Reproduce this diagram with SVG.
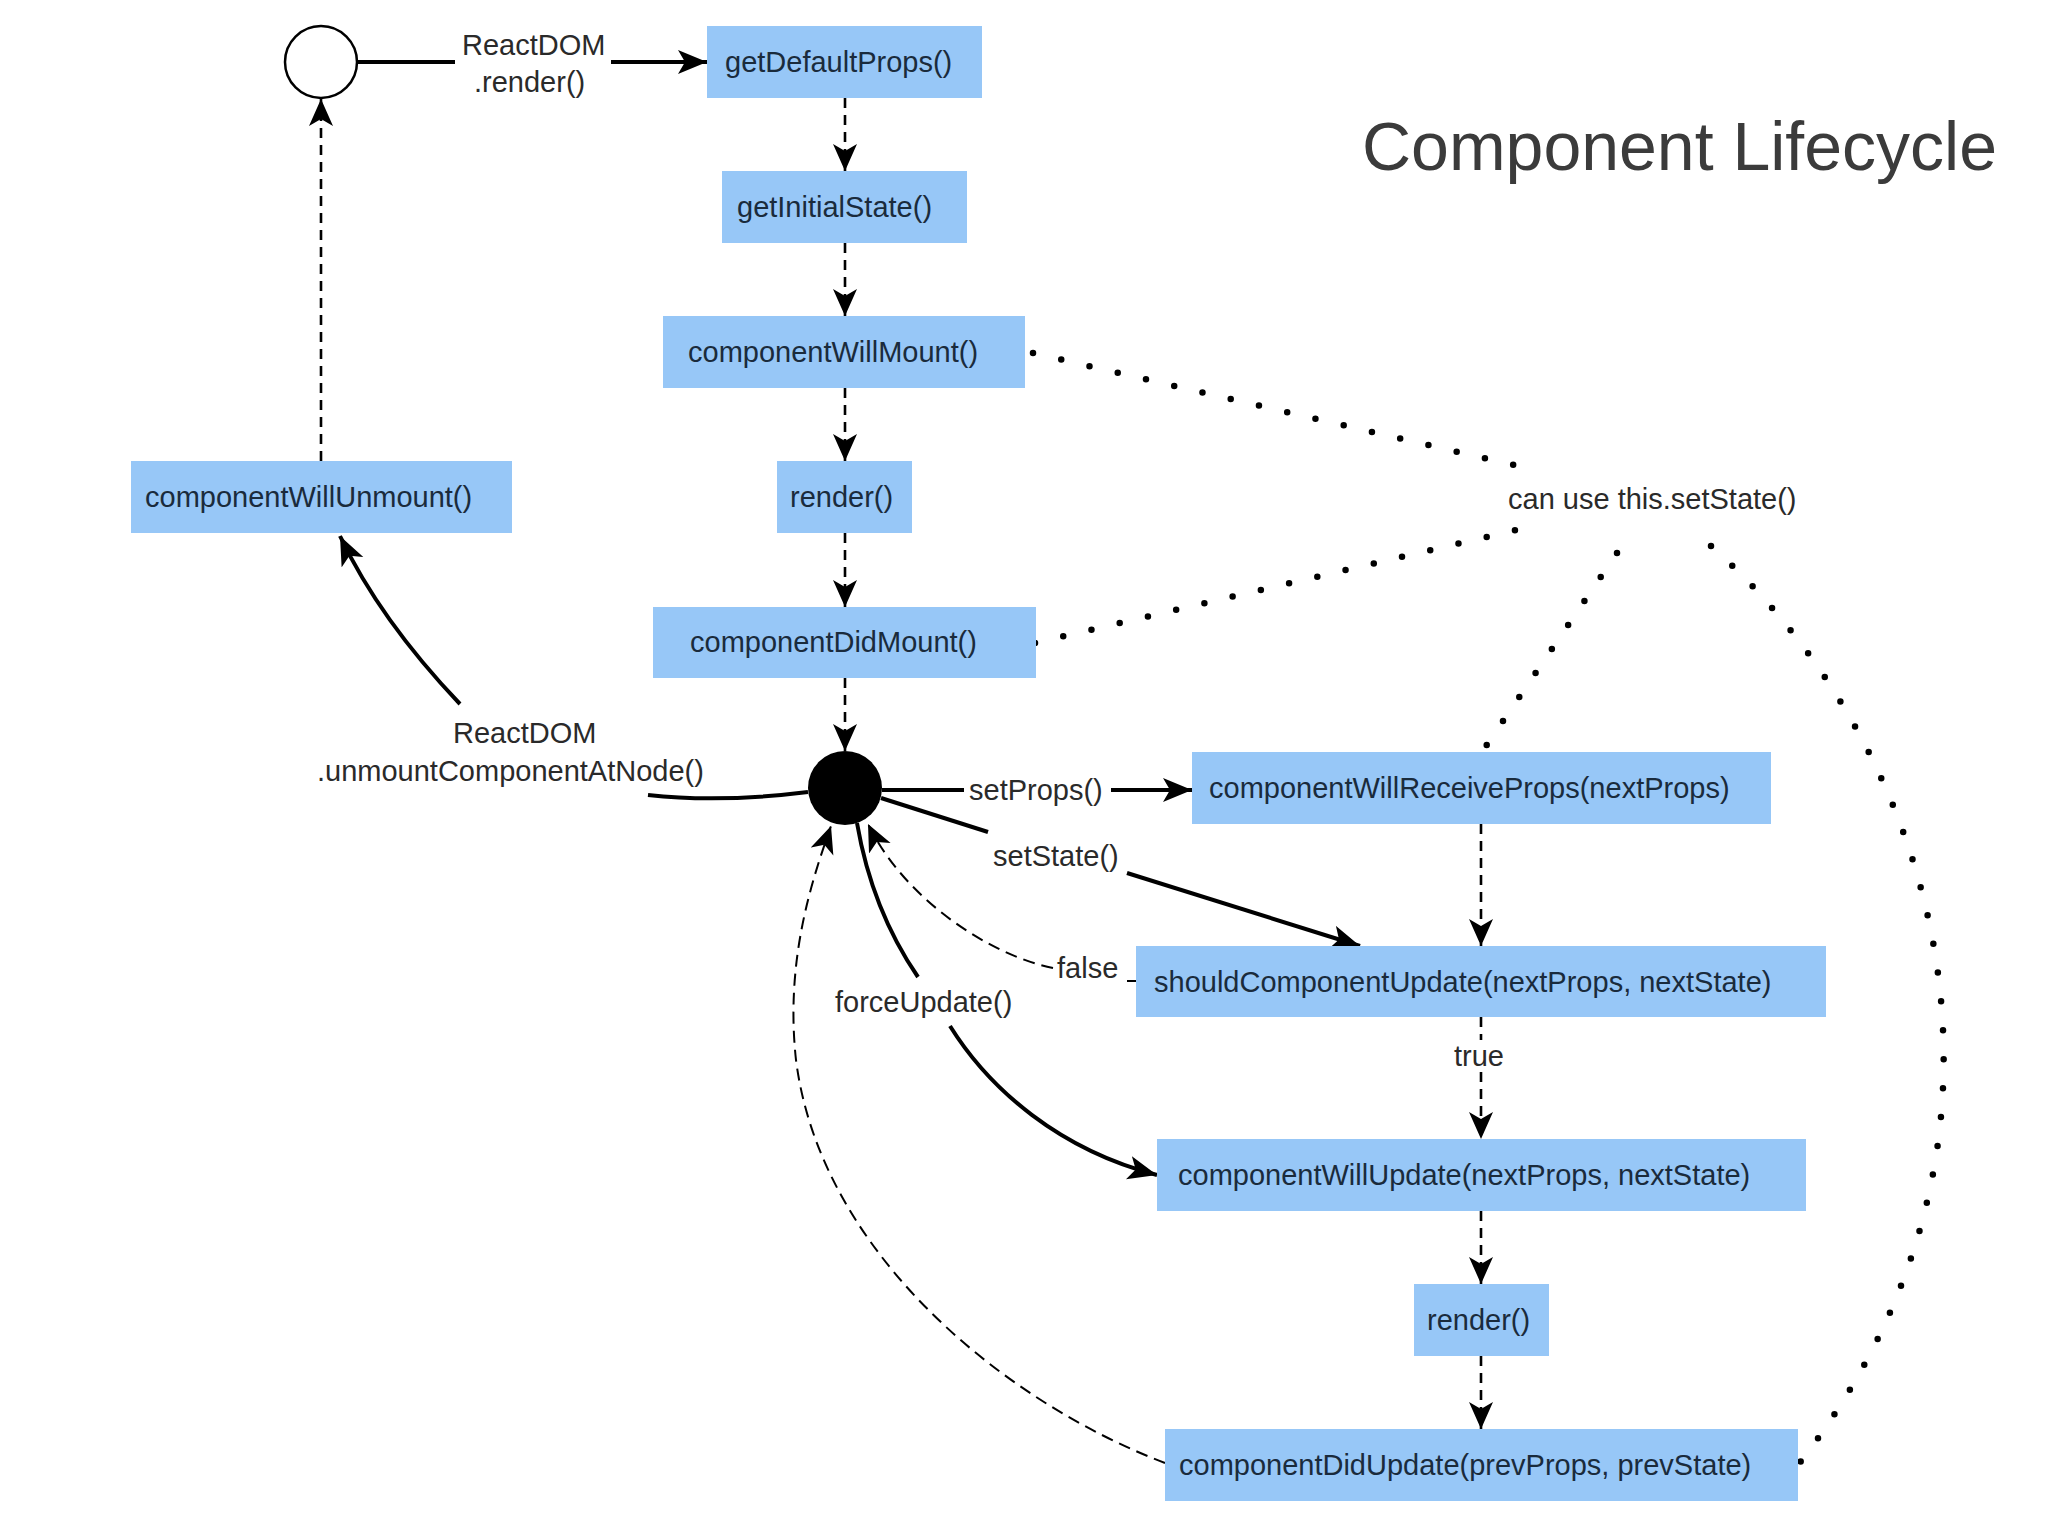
<svg xmlns="http://www.w3.org/2000/svg" width="2048" height="1536" viewBox="0 0 2048 1536">
<style>
  .box { fill: #97c7f7; }
  .bt { font-family: "Liberation Sans", Arial, sans-serif; font-size: 29px; fill: #1a2b3c; }
  .lb { font-family: "Liberation Sans", Arial, sans-serif; font-size: 29px; fill: #2a2a2a; }
  .solid { fill: none; stroke: #000; stroke-width: 4; }
  .dash { fill: none; stroke: #000; stroke-width: 2.6; stroke-dasharray: 10 7; }
  .dash2 { fill: none; stroke: #000; stroke-width: 2; stroke-dasharray: 12 7; }
  .dot { fill: none; stroke: #000; stroke-width: 6.5; stroke-linecap: round; stroke-dasharray: 0 29; }
  .title { font-family: "Liberation Sans", Arial, sans-serif; font-size: 68px; fill: #3b3b3b; }
</style>
<defs>
  <marker id="arS" markerUnits="userSpaceOnUse" markerWidth="32" markerHeight="26" refX="29" refY="12" orient="auto">
    <path d="M0,0 L29,12 L0,24 L7,12 z" fill="#000"/>
  </marker>
  <marker id="arD" markerUnits="userSpaceOnUse" markerWidth="30" markerHeight="26" refX="27" refY="12" orient="auto">
    <path d="M0,0 L27,12 L0,24 L7,12 z" fill="#000"/>
  </marker>
</defs>
<rect width="2048" height="1536" fill="#fff"/>

<text class="title" x="1362" y="170">Component Lifecycle</text>

<g id="connectors">
  <!-- ReactDOM.render -->
  <line class="solid" x1="357" y1="62" x2="455" y2="62"/>
  <line class="solid" x1="611" y1="62" x2="707" y2="62" marker-end="url(#arS)"/>
  <text class="lb" x="462" y="55">ReactDOM</text>
  <text class="lb" x="474" y="92">.render()</text>

  <!-- mount chain -->
  <line class="dash" x1="845" y1="98" x2="845" y2="171" marker-end="url(#arD)"/>
  <line class="dash" x1="845" y1="243" x2="845" y2="316" marker-end="url(#arD)"/>
  <line class="dash" x1="845" y1="388" x2="845" y2="461" marker-end="url(#arD)"/>
  <line class="dash" x1="845" y1="533" x2="845" y2="607" marker-end="url(#arD)"/>
  <line class="dash" x1="845" y1="678" x2="845" y2="751" marker-end="url(#arD)"/>

  <!-- unmount -->
  <line class="dash" x1="321" y1="461" x2="321" y2="99" marker-end="url(#arD)"/>
  <path class="solid" d="M808 792 Q720 803 648 795"/>
  <path class="solid" d="M460 704 Q380 620 340 536" marker-end="url(#arS)"/>
  <text class="lb" x="453" y="743">ReactDOM</text>
  <text class="lb" x="317" y="781">.unmountComponentAtNode()</text>

  <!-- setProps -->
  <line class="solid" x1="882" y1="790" x2="964" y2="790"/>
  <line class="solid" x1="1111" y1="790" x2="1192" y2="790" marker-end="url(#arS)"/>
  <text class="lb" x="969" y="800">setProps()</text>

  <!-- setState -->
  <line class="solid" x1="881" y1="798" x2="988" y2="832"/>
  <line class="solid" x1="1127" y1="873" x2="1360" y2="946" marker-end="url(#arS)"/>
  <text class="lb" x="993" y="866">setState()</text>

  <!-- forceUpdate -->
  <path class="solid" d="M857 823 Q872 910 918 977"/>
  <path class="solid" d="M950 1026 C990 1090 1060 1150 1157 1175" marker-end="url(#arS)"/>
  <text class="lb" x="835" y="1012">forceUpdate()</text>

  <!-- false -->
  <line class="dash2" x1="1127" y1="981" x2="1136" y2="981"/>
  <path class="dash2" d="M1053 968 C990 955 905 900 868 824" marker-end="url(#arD)"/>
  <text class="lb" x="1057" y="978">false</text>

  <!-- update chain -->
  <line class="dash" x1="1481" y1="824" x2="1481" y2="946" marker-end="url(#arD)"/>
  <line class="dash" x1="1481" y1="1017" x2="1481" y2="1040"/>
  <line class="dash" x1="1481" y1="1072" x2="1481" y2="1139" marker-end="url(#arD)"/>
  <text class="lb" x="1479" y="1066" text-anchor="middle">true</text>
  <line class="dash" x1="1481" y1="1211" x2="1481" y2="1284" marker-end="url(#arD)"/>
  <line class="dash" x1="1481" y1="1356" x2="1481" y2="1429" marker-end="url(#arD)"/>

  <!-- componentDidUpdate back to state -->
  <path class="dash2" d="M1165 1463 C1000 1400 820 1250 796 1060 C785 960 812 880 831 826" marker-end="url(#arD)"/>

  <!-- can use this.setState() dotted -->
  <path class="dot" d="M1033 353 L1514 465"/>
  <path class="dot" d="M1035 643 L1516 530"/>
  <path class="dot" d="M1617 553 L1486 746"/>
  <path class="dot" d="M1711 546 C1930 740 2060 1130 1798 1465"/>
  <text class="lb" x="1508" y="509" fill="#333">can use this.setState()</text>
</g>

<g id="start">
  <circle cx="321" cy="62" r="36" fill="#fff" stroke="#000" stroke-width="2.5"/>
</g>
<g id="state">
  <circle cx="845" cy="788" r="37" fill="#000"/>
</g>

<g id="getDefaultProps"><rect class="box" x="707" y="26" width="275" height="72"/><text class="bt" x="725" y="72">getDefaultProps()</text></g>
<g id="getInitialState"><rect class="box" x="722" y="171" width="245" height="72"/><text class="bt" x="737" y="217">getInitialState()</text></g>
<g id="componentWillMount"><rect class="box" x="663" y="316" width="362" height="72"/><text class="bt" x="688" y="362">componentWillMount()</text></g>
<g id="render1"><rect class="box" x="777" y="461" width="135" height="72"/><text class="bt" x="790" y="507">render()</text></g>
<g id="componentDidMount"><rect class="box" x="653" y="607" width="383" height="71"/><text class="bt" x="690" y="652">componentDidMount()</text></g>
<g id="componentWillUnmount"><rect class="box" x="131" y="461" width="381" height="72"/><text class="bt" x="145" y="507">componentWillUnmount()</text></g>
<g id="componentWillReceiveProps"><rect class="box" x="1192" y="752" width="579" height="72"/><text class="bt" x="1209" y="798">componentWillReceiveProps(nextProps)</text></g>
<g id="shouldComponentUpdate"><rect class="box" x="1136" y="946" width="690" height="71"/><text class="bt" x="1154" y="992">shouldComponentUpdate(nextProps, nextState)</text></g>
<g id="componentWillUpdate"><rect class="box" x="1157" y="1139" width="649" height="72"/><text class="bt" x="1178" y="1185">componentWillUpdate(nextProps, nextState)</text></g>
<g id="render2"><rect class="box" x="1414" y="1284" width="135" height="72"/><text class="bt" x="1427" y="1330">render()</text></g>
<g id="componentDidUpdate"><rect class="box" x="1165" y="1429" width="633" height="72"/><text class="bt" x="1179" y="1475">componentDidUpdate(prevProps, prevState)</text></g>
</svg>
